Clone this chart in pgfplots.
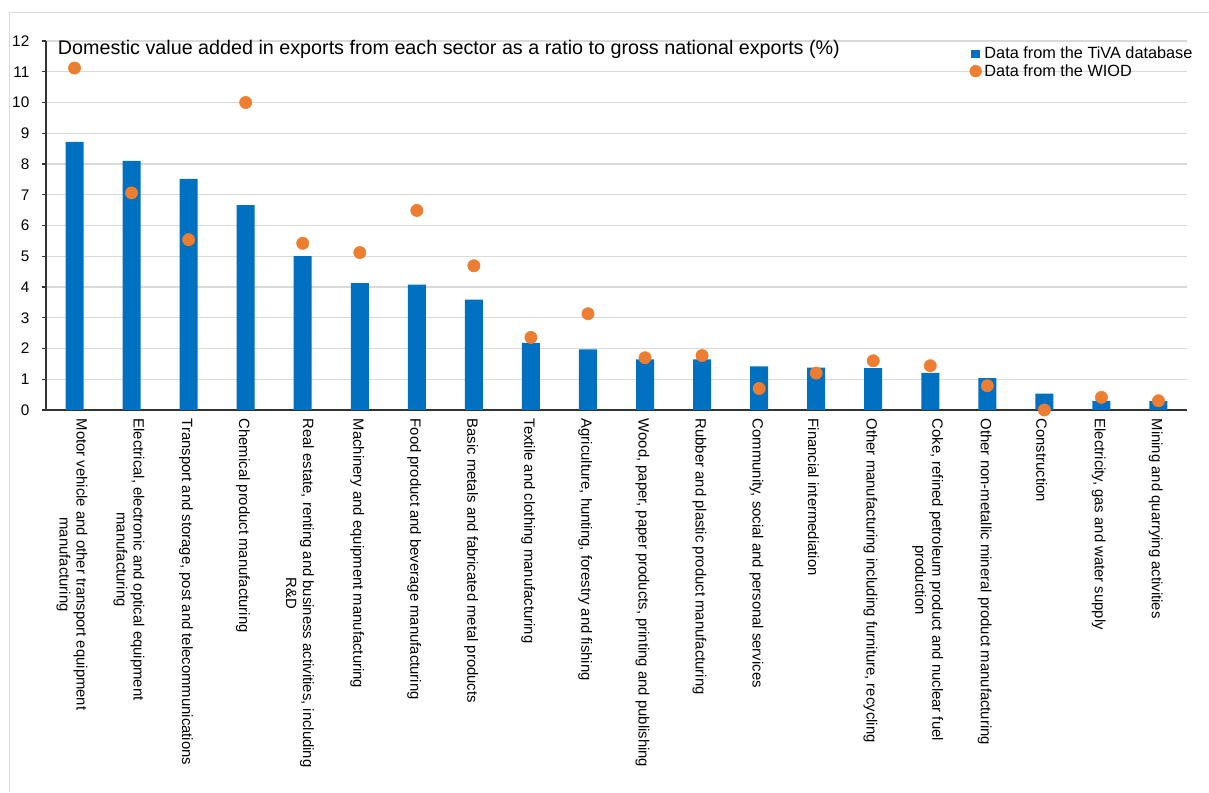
\documentclass[border=0pt]{standalone}
\usepackage{pgfplots}
\pgfplotsset{compat=1.18}
\usepackage{fontspec}
\setmainfont{Liberation Sans}
\definecolor{tivablue}{HTML}{0070C0}
\definecolor{wiodorange}{HTML}{ED7D31}
\definecolor{gridgray}{HTML}{D9D9D9}
\definecolor{framegray}{HTML}{D9D9D9}
\pgfplotstableread{
x tiva wiod
0 8.72 11.12
1 8.10 7.06
2 7.52 5.54
3 6.66 10.00
4 5.00 5.42
5 4.13 5.12
6 4.08 6.49
7 3.59 4.69
8 2.18 2.36
9 1.97 3.13
10 1.65 1.70
11 1.65 1.77
12 1.42 0.70
13 1.38 1.20
14 1.36 1.60
15 1.21 1.44
16 1.04 0.79
17 0.53 0.00
18 0.30 0.41
19 0.29 0.30
}\datatable
\begin{document}
\begin{tikzpicture}
\useasboundingbox (0pt,0pt) rectangle (906.75pt,594pt);
\draw[framegray, line width=0.75pt] (6.75pt,0pt) -- (6.75pt,584.25pt) -- (906.75pt,584.25pt);
\begin{axis}[
  at={(34.5pt,286.5pt)}, anchor=south west,
  scale only axis, width=855.75pt, height=276.75pt,
  xmin=-0.5, xmax=19.5, ymin=0, ymax=12,
  clip=false,
  axis x line*=bottom, axis y line*=left,
  axis line style={-, draw=black!80, line width=1pt},
  ytick={0,1,...,12},
  ymajorgrids, grid style={gridgray, line width=1pt},
  major tick length=3pt,
  ytick style={draw=black!80, line width=0.8pt},
  tick align=outside,
  xtick={0,1,...,19},
  xtick style={draw=none},
  /pgf/number format/assume math mode=true,
  yticklabel style={font=\fontsize{11.5}{13}\selectfont, xshift=-6pt},
  xticklabel style={font=\fontsize{11.15}{12.75}\selectfont, rotate=-90, anchor=west, align=center, yshift=-2pt},
  xticklabels={
    {Motor vehicle and other transport equipment\\manufacturing},
    {Electrical, electronic and optical equipment\\manufacturing},
    {Transport and storage, post and telecommunications},
    {Chemical product manufacturing},
    {Real estate, renting and business activities, including\\R\&D},
    {Machinery and equipment manufacturing},
    {Food product and beverage manufacturing},
    {Basic metals and fabricated metal products},
    {Textile and clothing manufacturing},
    {Agriculture, hunting, forestry and fishing},
    {Wood, paper, paper products, printing and publishing},
    {Rubber and plastic product manufacturing},
    {Community, social and personal services},
    {Financial intermediation},
    {Other manufacturing including furniture, recycling},
    {Coke, refined petroleum product and nuclear fuel\\production},
    {Other non-metallic mineral product manufacturing},
    {Construction},
    {Electricity, gas and water supply},
    {Mining and quarrying activities}
  },
  title={Domestic value added in exports from each sector as a ratio to gross national exports (\%)},
  title style={at={(0.009,1.0)}, anchor=north west, font=\fontsize{14.8}{16}\selectfont, inner sep=1pt, yshift=-4pt},
  legend style={at={(0.808,0.995)}, anchor=north west, draw=none, fill=none,
    font=\fontsize{12.2}{13}\selectfont, row sep=-1.5pt, inner sep=1pt,
    /tikz/every even column/.append style={column sep=0pt}},
  legend cell align=left,
]
\addplot[ybar, bar width=13.5pt, fill=tivablue, draw=none,
  legend image code/.code={\fill[tivablue] (0.02cm,-0.11cm) rectangle (0.25cm,0.11cm);}]
  table[x=x, y=tiva] {\datatable};
\addlegendentry{Data from the TiVA database}
\addplot[only marks, mark=*, mark size=4.6pt, color=wiodorange, mark options={fill=wiodorange, draw=wiodorange},
  legend image code/.code={\fill[wiodorange] (0.14cm,0cm) circle (4.4pt);}]
  table[x=x, y=wiod] {\datatable};
\addlegendentry{Data from the WIOD}
\end{axis}
\end{tikzpicture}
\end{document}
